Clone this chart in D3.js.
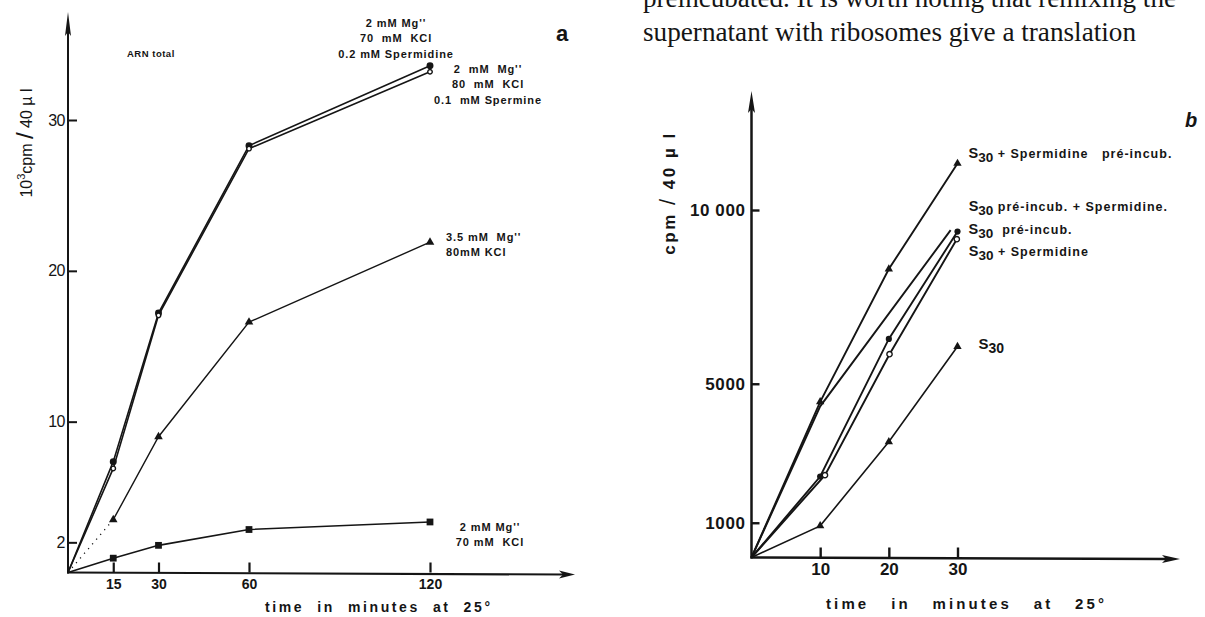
<!DOCTYPE html>
<html>
<head>
<meta charset="utf-8">
<script src="https://cdn.jsdelivr.net/npm/d3@7"></script>
<style>
body { margin: 0; background: #fff; }
svg { display: block; }
.lbl { font-family: "Liberation Sans", Arial, sans-serif; font-weight: bold; fill: #151515; }
.prose { font-family: "Liberation Serif", "Times New Roman", serif; fill: #151515; }
</style>
</head>
<body>
<svg id="chart" width="1205" height="617"></svg>
<script>
// ---- panel a : ARN total ----
var timesA = [0, 15, 30, 60, 120];
var spermidineA = [0, 7.35, 17.2, 28.3, 33.6];
var spermineA = [0, 6.9, 17.05, 28.1, 33.2];
var mg35A = [0, 3.5, 9.0, 16.6, 21.9];
var mg2A = [0, 0.95, 1.8, 2.85, 3.35];
var xTicksA = [15, 30, 60, 120];
var yTicksA = [2, 10, 20, 30];
var spermidineLabelA = ["2 mM Mg''", "70  mM  KCl", "0.2 mM Spermidine"];
var spermineLabelA = ["2  mM  Mg''", "80  mM  KCl", "0.1  mM Spermine"];
var mg35LabelA = ["3.5 mM  Mg''", "80mM KCl"];
var mg2LabelA = ["2 mM Mg''", "70 mM  KCl"];

// ---- panel b ----
var timesB = [0, 10, 20, 30];
var spdPreB = [0, 4480, 8300, 11340];        // S30 + Spermidine pre-incub.
var timesPreSpdB = [0, 10, 29];
var preSpdB = [0, 4350, 9420];               // S30 pre-incub. + Spermidine
var preB = [0, 2330, 6290, 9380];            // S30 pre-incub.
var timesSpdB = [0, 10.7, 20.1, 29.9];
var spdB = [0, 2370, 5850, 9160];            // S30 + Spermidine
var s30B = [0, 910, 3330, 6070];             // S30
var xTicksB = [10, 20, 30];
var yTicksB = [1000, 5000, 10000];

var proseLines = ["preincubated. It is worth noting that remixing the",
                  "supernatant with ribosomes give a translation"];

var svg = d3.select("#chart");
var ink = "#151515";

function arrowUp(g, x, y, len, half) {
    g.append("path")
        .attr("d", "M" + x + "," + y + "L" + (x - half) + "," + (y + len) + "L" + x + "," + (y + len - 4) + "L" + (x + half) + "," + (y + len) + "Z")
        .attr("fill", ink);
}
function arrowRight(g, x, y, len, half) {
    g.append("path")
        .attr("d", "M" + x + "," + y + "L" + (x - len) + "," + (y - half) + "L" + (x - len + 4) + "," + y + "L" + (x - len) + "," + (y + half) + "Z")
        .attr("fill", ink);
}

function zip(xs, ys) {
    return xs.map(function(t, i) { return [t, ys[i]]; });
}

function multiLabel(g, lines, x, y, anchor, size, gap) {
    var t = g.append("g");
    lines.forEach(function(s, i) {
        t.append("text")
            .attr("class", "lbl")
            .attr("x", x)
            .attr("y", y + i * gap)
            .attr("text-anchor", anchor)
            .style("font-size", size + "px")
            .style("letter-spacing", "0.9px")
            .style("white-space", "pre")
            .text(s);
    });
}

function markers(g, pts, x, y, type, size, hollow) {
    g.selectAll(null)
        .data(pts.slice(1))
        .enter()
        .append("path")
        .attr("transform", function(d) { return "translate(" + x(d[0]) + "," + y(d[1]) + ")"; })
        .attr("d", d3.symbol().type(type).size(size))
        .attr("fill", hollow ? "#fff" : ink)
        .attr("stroke", ink)
        .attr("stroke-width", hollow ? 1.4 : 0);
}

function drawPanelA() {
    var g = svg.append("g");
    var x = d3.scaleLinear().domain([0, 120]).range([68, 430]);
    var y = d3.scaleLinear().domain([0, 30]).range([572.5, 120]);
    var line = d3.line().x(function(d) { return x(d[0]); }).y(function(d) { return y(d[1]); });

    // axes
    var yAxis = d3.axisLeft(y).tickValues(yTicksA).tickSizeInner(-9).tickSizeOuter(0).tickPadding(3);
    var gy = g.append("g").attr("transform", "translate(" + x(0) + ",0)").call(yAxis);
    gy.select(".domain").remove();
    gy.selectAll("line").attr("stroke", ink).attr("stroke-width", 2);
    gy.selectAll("text").attr("fill", ink).style("font-family", "'Liberation Sans', Arial, sans-serif")
        .style("font-size", "16px").style("letter-spacing", "-0.5px");

    var xAxis = d3.axisBottom(x).tickValues(xTicksA).tickSizeInner(-10).tickSizeOuter(0).tickPadding(7);
    var gx = g.append("g").attr("transform", "translate(0," + y(0) + ")").call(xAxis);
    gx.select(".domain").remove();
    gx.selectAll("line").attr("stroke", ink).attr("stroke-width", 2.2);
    gx.selectAll("text").attr("fill", ink).style("font-family", "'Liberation Sans', Arial, sans-serif")
        .style("font-size", "14px").style("font-weight", "bold");

    g.append("line").attr("x1", x(0)).attr("y1", y(0) + 1).attr("x2", x(0)).attr("y2", 20)
        .attr("stroke", ink).attr("stroke-width", 2);
    arrowUp(g, x(0), 12, 24, 3);
    g.append("line").attr("x1", x(0) - 1).attr("y1", y(0)).attr("x2", 565).attr("y2", y(0) + 2)
        .attr("stroke", ink).attr("stroke-width", 2.2);
    arrowRight(g, 575, y(0) + 2, 16, 4);

    // series
    var s1 = zip(timesA, spermidineA), s2 = zip(timesA, spermineA),
        s3 = zip(timesA, mg35A), s4 = zip(timesA, mg2A);
    [s1, s2, s4].forEach(function(s) {
        g.append("path").attr("d", line(s)).attr("fill", "none").attr("stroke", ink).attr("stroke-width", 1.6);
    });
    g.append("path").attr("d", line(s3.slice(1))).attr("fill", "none").attr("stroke", ink).attr("stroke-width", 1.4);
    g.append("path").attr("d", line(s3.slice(0, 2))).attr("fill", "none").attr("stroke", ink)
        .attr("stroke-width", 1.3).attr("stroke-dasharray", "1.2,5");

    markers(g, s1, x, y, d3.symbolCircle, 38, false);
    markers(g, s2, x, y, d3.symbolCircle, 16, true);
    markers(g, s3, x, y, d3.symbolTriangle, 32, false);
    markers(g, s4, x, y, d3.symbolSquare, 46, false);

    // labels
    var e1 = s1[s1.length - 1], e2 = s2[s2.length - 1], e3 = s3[s3.length - 1], e4 = s4[s4.length - 1];
    multiLabel(g, spermidineLabelA, x(e1[0]) - 34, y(e1[1]) - 39, "middle", 11, 15.5);
    multiLabel(g, spermineLabelA, x(e2[0]) + 58, y(e2[1]) + 1, "middle", 11, 15.5);
    multiLabel(g, mg35LabelA, x(e3[0]) + 16, y(e3[1]) - 1, "start", 11, 15);
    multiLabel(g, mg2LabelA, x(e4[0]) + 60, y(e4[1]) + 9, "middle", 11, 15);

    g.append("text").attr("class", "lbl").attr("x", x(0) + 59).attr("y", 57)
        .style("font-size", "9.5px").style("letter-spacing", "0.5px").text("ARN total");
    g.append("text").attr("class", "lbl").attr("x", 556).attr("y", 41)
        .style("font-size", "22px").text("a");

    g.append("text").attr("class", "lbl").attr("x", 265).attr("y", 612)
        .attr("textLength", 225).attr("lengthAdjust", "spacing")
        .style("font-size", "14px").style("white-space", "pre").text("time  in  minutes  at  25°");

    var yl = g.append("text").attr("class", "lbl")
        .attr("transform", "translate(32,143) rotate(-90)")
        .attr("text-anchor", "middle")
        .style("font-size", "16px").style("font-weight", "normal").style("white-space", "pre");
    yl.append("tspan").text("10");
    yl.append("tspan").attr("dy", -7).style("font-size", "11px").text("3");
    yl.append("tspan").attr("dy", 7).text("cpm ");
    yl.append("tspan").attr("dy", 1).style("font-size", "24px").text("/");
    yl.append("tspan").attr("dy", -1).text(" 40 µ l");
}

function s30Text(g, x, y, rest, size) {
    var t = g.append("text").attr("class", "lbl").attr("x", x).attr("y", y)
        .style("font-size", size + "px").style("white-space", "pre");
    t.append("tspan").style("font-size", (size + 2) + "px").text("S");
    t.append("tspan").attr("dy", 4).style("font-size", (size + 1) + "px").text("30");
    if (rest) {
        t.append("tspan").attr("dy", -4).style("letter-spacing", "1px").text(rest);
    }
    return t;
}

function drawPanelB() {
    var g = svg.append("g");
    var x = d3.scaleLinear().domain([0, 30]).range([751.5, 957.5]);
    var y = d3.scaleLinear().domain([0, 10000]).range([557.5, 210]);
    var line = d3.line().x(function(d) { return x(d[0]); }).y(function(d) { return y(d[1]); });

    var yAxis = d3.axisLeft(y).tickValues(yTicksB).tickSizeInner(-8).tickSizeOuter(0).tickPadding(6)
        .tickFormat(function(d) { return d >= 10000 ? "10 000" : d; });
    var gy = g.append("g").attr("transform", "translate(" + x(0) + ",0)").call(yAxis);
    gy.select(".domain").remove();
    gy.selectAll("line").attr("stroke", ink).attr("stroke-width", 2.4);
    gy.selectAll("text").attr("fill", ink).style("font-family", "'Liberation Sans', Arial, sans-serif")
        .style("font-size", "17px").style("font-weight", "bold").style("letter-spacing", "0.6px")
        .style("white-space", "pre");

    var xAxis = d3.axisBottom(x).tickValues(xTicksB).tickSizeInner(-10).tickSizeOuter(0).tickPadding(5);
    var gx = g.append("g").attr("transform", "translate(0," + y(0) + ")").call(xAxis);
    gx.select(".domain").remove();
    gx.selectAll("line").attr("stroke", ink).attr("stroke-width", 2.4);
    gx.selectAll("text").attr("fill", ink).style("font-family", "'Liberation Sans', Arial, sans-serif")
        .style("font-size", "17px").style("font-weight", "bold");

    g.append("line").attr("x1", x(0)).attr("y1", y(0) + 1).attr("x2", x(0)).attr("y2", 100)
        .attr("stroke", ink).attr("stroke-width", 2.5);
    arrowUp(g, x(0), 91, 22, 3.5);
    g.append("line").attr("x1", x(0) - 1).attr("y1", y(0)).attr("x2", 1168).attr("y2", y(0) + 1.5)
        .attr("stroke", ink).attr("stroke-width", 2.6);
    arrowRight(g, 1180, y(0) + 1.5, 18, 4);

    var b1 = zip(timesB, spdPreB), b2 = zip(timesPreSpdB, preSpdB), b3 = zip(timesB, preB),
        b4 = zip(timesSpdB, spdB), b5 = zip(timesB, s30B);
    [b1, b2, b3, b4].forEach(function(s) {
        g.append("path").attr("d", line(s)).attr("fill", "none").attr("stroke", ink).attr("stroke-width", 1.9);
    });
    g.append("path").attr("d", line(b5)).attr("fill", "none").attr("stroke", ink).attr("stroke-width", 1.6);

    markers(g, b1, x, y, d3.symbolTriangle, 30, false);
    markers(g, b3, x, y, d3.symbolCircle, 30, false);
    markers(g, b4, x, y, d3.symbolCircle, 22, true);
    markers(g, b5, x, y, d3.symbolTriangle, 30, false);

    var e1 = b1[b1.length - 1], e2 = b2[b2.length - 1], e3 = b3[b3.length - 1],
        e4 = b4[b4.length - 1], e5 = b5[b5.length - 1];
    s30Text(g, x(e1[0]) + 11, y(e1[1]) - 5, " + Spermidine   pré-incub.", 12.5);
    s30Text(g, x(e2[0]) + 18, y(e2[1]) - 19, " pré-incub. + Spermidine.", 12.5);
    s30Text(g, x(e3[0]) + 11, y(e3[1]) + 2.5, "  pré-incub.", 12.5);
    s30Text(g, x(e4[0]) + 12, y(e4[1]) + 17, " + Spermidine", 12.5);
    s30Text(g, x(e5[0]) + 21, y(e5[1]) + 2, null, 13);

    g.append("text").attr("class", "lbl").attr("x", 1185).attr("y", 127)
        .style("font-size", "20px").style("font-style", "italic").text("b");

    g.append("text").attr("class", "lbl").attr("x", 826).attr("y", 609)
        .attr("textLength", 278).attr("lengthAdjust", "spacing")
        .style("font-size", "15px").style("white-space", "pre").text("time   in   minutes   at   25°");

    var yl = g.append("text").attr("class", "lbl")
        .attr("transform", "translate(675,193) rotate(-90)")
        .attr("text-anchor", "middle")
        .style("font-size", "17px").style("letter-spacing", "2.5px").style("white-space", "pre");
    yl.append("tspan").text("cpm ");
    yl.append("tspan").style("font-size", "22px").style("font-weight", "normal").text("/");
    yl.append("tspan").text(" 40 µ l");
}

function drawProse() {
    svg.append("text").attr("class", "prose").attr("x", 643).attr("y", 7)
        .attr("textLength", 533).attr("lengthAdjust", "spacingAndGlyphs")
        .style("font-size", "27px").text(proseLines[0]);
    svg.append("text").attr("class", "prose").attr("x", 643).attr("y", 41)
        .attr("textLength", 493).attr("lengthAdjust", "spacingAndGlyphs")
        .style("font-size", "27px").text(proseLines[1]);
}

drawProse();
drawPanelA();
drawPanelB();
</script>
</body>
</html>
